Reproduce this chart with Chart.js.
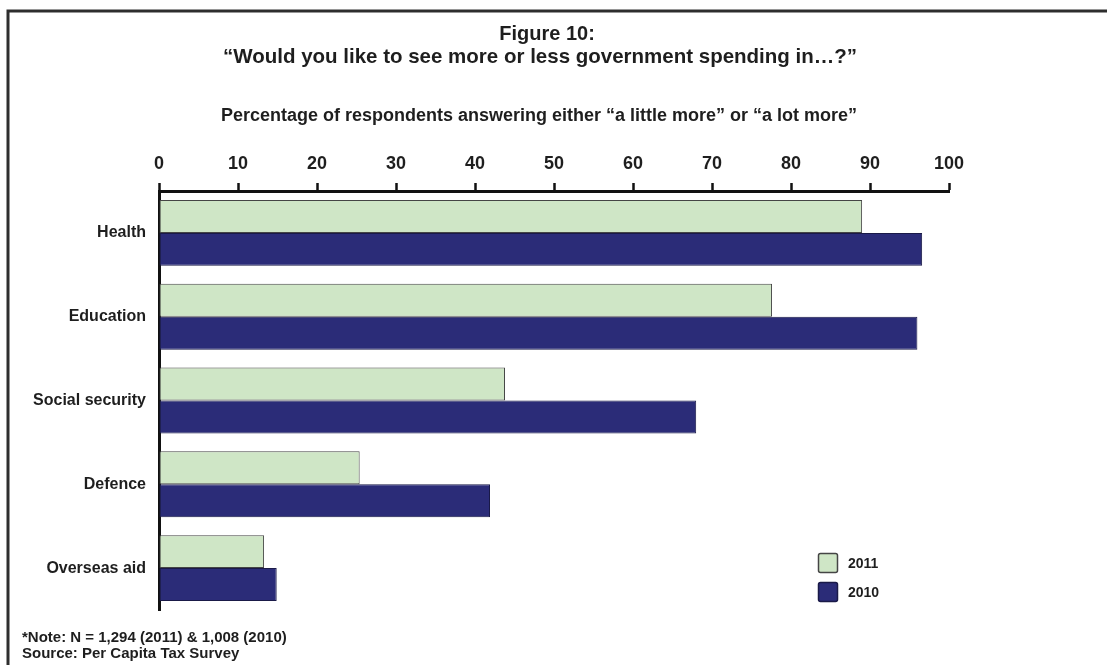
<!DOCTYPE html>
<html>
<head>
<meta charset="utf-8">
<title>Figure 10</title>
<script src="https://cdn.jsdelivr.net/npm/chart.js@4.4.0/dist/chart.umd.min.js"></script>
<style>
  html, body { margin: 0; padding: 0; background: #fff; }
  canvas { display: block; }
</style>
</head>
<body>
<canvas id="spendingChart" width="1107" height="665"></canvas>
<script>
// Survey data
const categories = ["Health", "Education", "Social security", "Defence", "Overseas aid"];
const seriesLabels = ["2011", "2010"];
const values2011 = [89, 77.6, 43.8, 25.4, 13.3];
const values2010 = [96.6, 96.0, 68.0, 41.9, 14.9];
const xTickValues = [0, 10, 20, 30, 40, 50, 60, 70, 80, 90, 100];

const figureLabel = "Figure 10:";
const question = "\u201cWould you like to see more or less government spending in\u2026?\u201d";
const axisCaption = "Percentage of respondents answering either \u201ca little more\u201d or \u201ca lot more\u201d";
const noteLines = ["*Note: N = 1,294 (2011) & 1,008 (2010)", "Source: Per Capita Tax Survey"];

const FONT = "'Liberation Sans', Arial, Helvetica, sans-serif";
const INK = "#1e1e1e";
const GREEN = "#cfe6c6";
const NAVY = "#2b2c78";

// white page, frame, headings, notes and legend
const decorations = {
  id: "decorations",
  beforeDraw(chart) {
    const ctx = chart.ctx;
    ctx.save();
    ctx.fillStyle = "#fff";
    ctx.fillRect(0, 0, chart.width, chart.height);
    ctx.restore();
  },
  afterDraw(chart) {
    const ctx = chart.ctx;
    ctx.save();

    // frame (top and left edges only)
    ctx.strokeStyle = "#2e2e2e";
    ctx.lineWidth = 3;
    ctx.beginPath();
    ctx.moveTo(chart.width, 11);
    ctx.lineTo(8, 11);
    ctx.lineTo(8, chart.height);
    ctx.stroke();

    ctx.fillStyle = INK;
    ctx.textAlign = "center";
    ctx.textBaseline = "alphabetic";
    ctx.font = "bold 20px " + FONT;
    ctx.fillText(figureLabel, 547, 40);
    ctx.font = "bold 20.5px " + FONT;
    ctx.fillText(question, 540, 63);
    ctx.font = "bold 18px " + FONT;
    ctx.fillText(axisCaption, 539, 121);

    ctx.textAlign = "left";
    ctx.font = "bold 15px " + FONT;
    ctx.fillText(noteLines[0], 22, 642);
    ctx.fillText(noteLines[1], 22, 658);

    // legend
    ctx.font = "bold 14px " + FONT;
    chart.data.datasets.forEach((ds, i) => {
      const y = 553 + i * 29;
      ctx.fillStyle = ds.backgroundColor;
      ctx.strokeStyle = ds.borderColor;
      ctx.lineWidth = 1.5;
      ctx.beginPath();
      ctx.roundRect(818.5, y + 0.5, 19, 19, 2);
      ctx.fill();
      ctx.stroke();
      ctx.fillStyle = INK;
      ctx.fillText(ds.label, 848, y + 14.5);
    });

    ctx.restore();
  }
};

new Chart(document.getElementById("spendingChart"), {
  type: "bar",
  data: {
    labels: categories,
    datasets: [
      {
        label: seriesLabels[0],
        data: values2011,
        backgroundColor: GREEN,
        borderColor: "#454545",
        borderWidth: 1,
        borderSkipped: false,
      },
      {
        label: seriesLabels[1],
        data: values2010,
        backgroundColor: NAVY,
        borderColor: "#1a1a48",
        borderWidth: 1,
        borderSkipped: false,
      },
    ],
  },
  options: {
    indexAxis: "y",
    responsive: false,
    animation: false,
    categoryPercentage: 0.786,
    barPercentage: 1,
    layout: {
      padding: { left: 0, top: 151, right: 158, bottom: 55 },
    },
    plugins: {
      legend: { display: false },
      title: { display: false },
      tooltip: { enabled: false },
    },
    scales: {
      x: {
        position: "top",
        min: 0,
        max: 100,
        afterBuildTicks(axis) {
          axis.ticks = xTickValues.map((v) => ({ value: v }));
        },
        afterFit(scale) {
          scale.height = 40;
        },
        grid: {
          display: true,
          drawOnChartArea: false,
          drawTicks: true,
          tickLength: 8,
          tickWidth: 2.5,
          tickColor: "#111",
        },
        border: { display: true, color: "#111", width: 3 },
        ticks: {
          color: INK,
          padding: 8,
          maxRotation: 0,
          font: { family: FONT, size: 18, weight: "bold" },
        },
      },
      y: {
        afterFit(scale) {
          scale.width = 159;
        },
        grid: { display: false, drawTicks: false },
        border: { display: true, color: "#111", width: 3 },
        ticks: {
          color: INK,
          padding: 13,
          font: { family: FONT, size: 16, weight: "bold" },
        },
      },
    },
  },
  plugins: [decorations],
});
</script>
</body>
</html>
